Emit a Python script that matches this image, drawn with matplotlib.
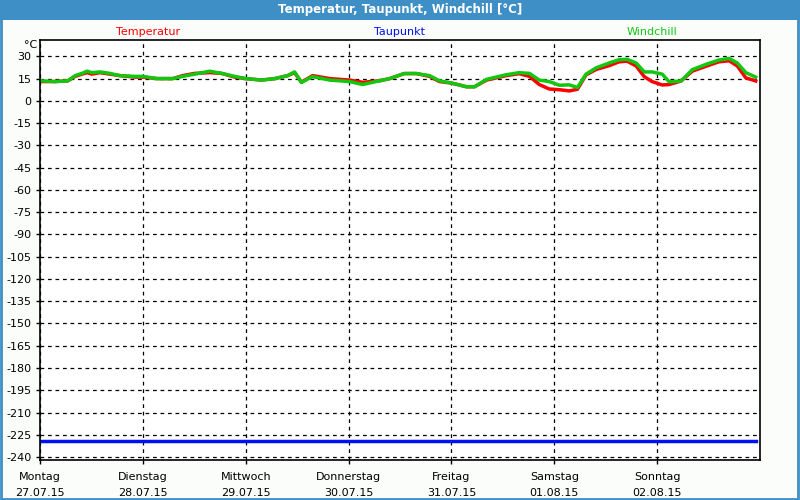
import numpy as np
import matplotlib
matplotlib.use("Agg")
import matplotlib.pyplot as plt
from matplotlib.patches import Rectangle

# Donnees (heures depuis lundi 27.07.15 00:00)
heures = [0, 3.5, 6.5, 8.2, 9.8, 11, 12.1, 14, 16.3, 18.6, 22.1, 24, 27.3, 31, 33.3,
          36.1, 39.6, 42.4, 45.4, 48, 51.7, 54.8, 57.8, 59.4, 61, 63.6, 67.6, 72.2,
          75.3, 79.2, 81.6, 85, 87.8, 90.9, 93.2, 96, 99.5, 101.4, 104.2, 108.8,
          111.8, 114.2, 116.5, 118.8, 121.2, 123.5, 125.4, 127.4, 129.8, 132.8,
          135.1, 137, 139.1, 141, 142.8, 145.2, 146.8, 149.6, 152.2, 155.4, 158.4,
          160.8, 162.7, 164.7, 167]
temperatur = [13, 13, 13.5, 16.5, 18, 19, 18, 19, 18, 17, 16, 16, 15, 15, 17,
              18.5, 19, 18.5, 16, 15, 14, 15, 17, 19, 12.5, 17, 15, 14,
              12.5, 13.5, 15, 18.4, 18.4, 16.5, 13, 12, 9.5, 9.5, 14, 17,
              18.3, 16.5, 11, 8, 7.5, 6.7, 7.8, 17.5, 21.2, 23.7,
              26.3, 26.7, 23.5, 16.3, 13, 10.7, 11, 13.4, 20, 23.3, 26.3,
              27, 23.5, 15.5, 13.4]
windchill = [13.5, 13, 13.5, 17, 18.5, 20, 19, 19.5, 18.5, 17, 16.5, 16.5, 15, 15, 16.5,
             18, 20, 18.5, 16.5, 15, 14, 15, 17, 19.5, 12.5, 16.3, 14, 13,
             11, 13.5, 15, 18.4, 18.4, 17, 13.5, 12, 9.5, 9.5, 14.5, 17.6,
             19, 18.5, 14, 13, 10.5, 10.8, 9, 18, 22.3, 25.5,
             27.7, 28, 25.5, 19.5, 19.5, 18, 12.8, 13.4, 21, 24.6, 27.5,
             28.6, 25.5, 19, 16]
taupunkt = [-229, -229]
taupunkt_heures = [0, 167]

tage = ["Montag", "Dienstag", "Mittwoch", "Donnerstag", "Freitag", "Samstag", "Sonntag"]
daten = ["27.07.15", "28.07.15", "29.07.15", "30.07.15", "31.07.15", "01.08.15", "02.08.15"]
y_ticks = list(range(30, -241, -15))

fig = plt.figure(figsize=(8, 5), dpi=100, facecolor="#FBFDFB")

# bandeau du titre + cadre
fig.patches.append(Rectangle((0, 0.96), 1, 0.04, transform=fig.transFigure,
                             facecolor="#3D8FC5", edgecolor="none", zorder=0))
fig.patches.append(Rectangle((0.001, 0.002), 0.997, 0.996, transform=fig.transFigure,
                             facecolor="none", edgecolor="#3D8FC5", linewidth=2, zorder=1))
fig.text(0.5, 0.98, "Temperatur, Taupunkt, Windchill [°C]", color="white",
         fontsize=8.5, fontweight="bold", ha="center", va="center")

ax = fig.add_axes([0.05, 0.08, 0.9, 0.84])
ax.set_facecolor("white")

x_tage = np.array(heures) / 24
ax.plot(np.array(taupunkt_heures) / 24, taupunkt, color="#0010F0", linewidth=2.5)
ax.plot(x_tage, temperatur, color="#FF0000", linewidth=2.5)
ax.plot(x_tage, windchill, color="#10C810", linewidth=2.5)

ax.set_xlim(0, 7)
ax.set_ylim(-242, 41)
ax.set_yticks(y_ticks)
ax.set_yticklabels([str(v) for v in y_ticks], fontsize=8)
ax.set_xticks(range(7))
ax.set_xticklabels([t + "\n" + d for t, d in zip(tage, daten)], fontsize=8, linespacing=1.7)
ax.tick_params(axis="y", length=3, width=1, color="black", pad=3)
ax.tick_params(axis="x", length=3, width=1, color="black", pad=6)
ax.grid(True, color="black", linestyle=(0, (3, 3)), linewidth=0.9)
for s in ax.spines.values():
    s.set_linewidth(1.2)

# legende au-dessus du graphique
fig.text(148 / 800, 1 - 32 / 500, "Temperatur", color="#FF0000", fontsize=8, ha="center", va="center")
fig.text(400 / 800, 1 - 32 / 500, "Taupunkt", color="#0010F0", fontsize=8, ha="center", va="center")
fig.text(652 / 800, 1 - 32 / 500, "Windchill", color="#10C810", fontsize=8, ha="center", va="center")
fig.text(31 / 800, 1 - 45 / 500, "°C", color="black", fontsize=8, ha="center", va="center")

fig.savefig("out.png", dpi=100, facecolor=fig.get_facecolor())
